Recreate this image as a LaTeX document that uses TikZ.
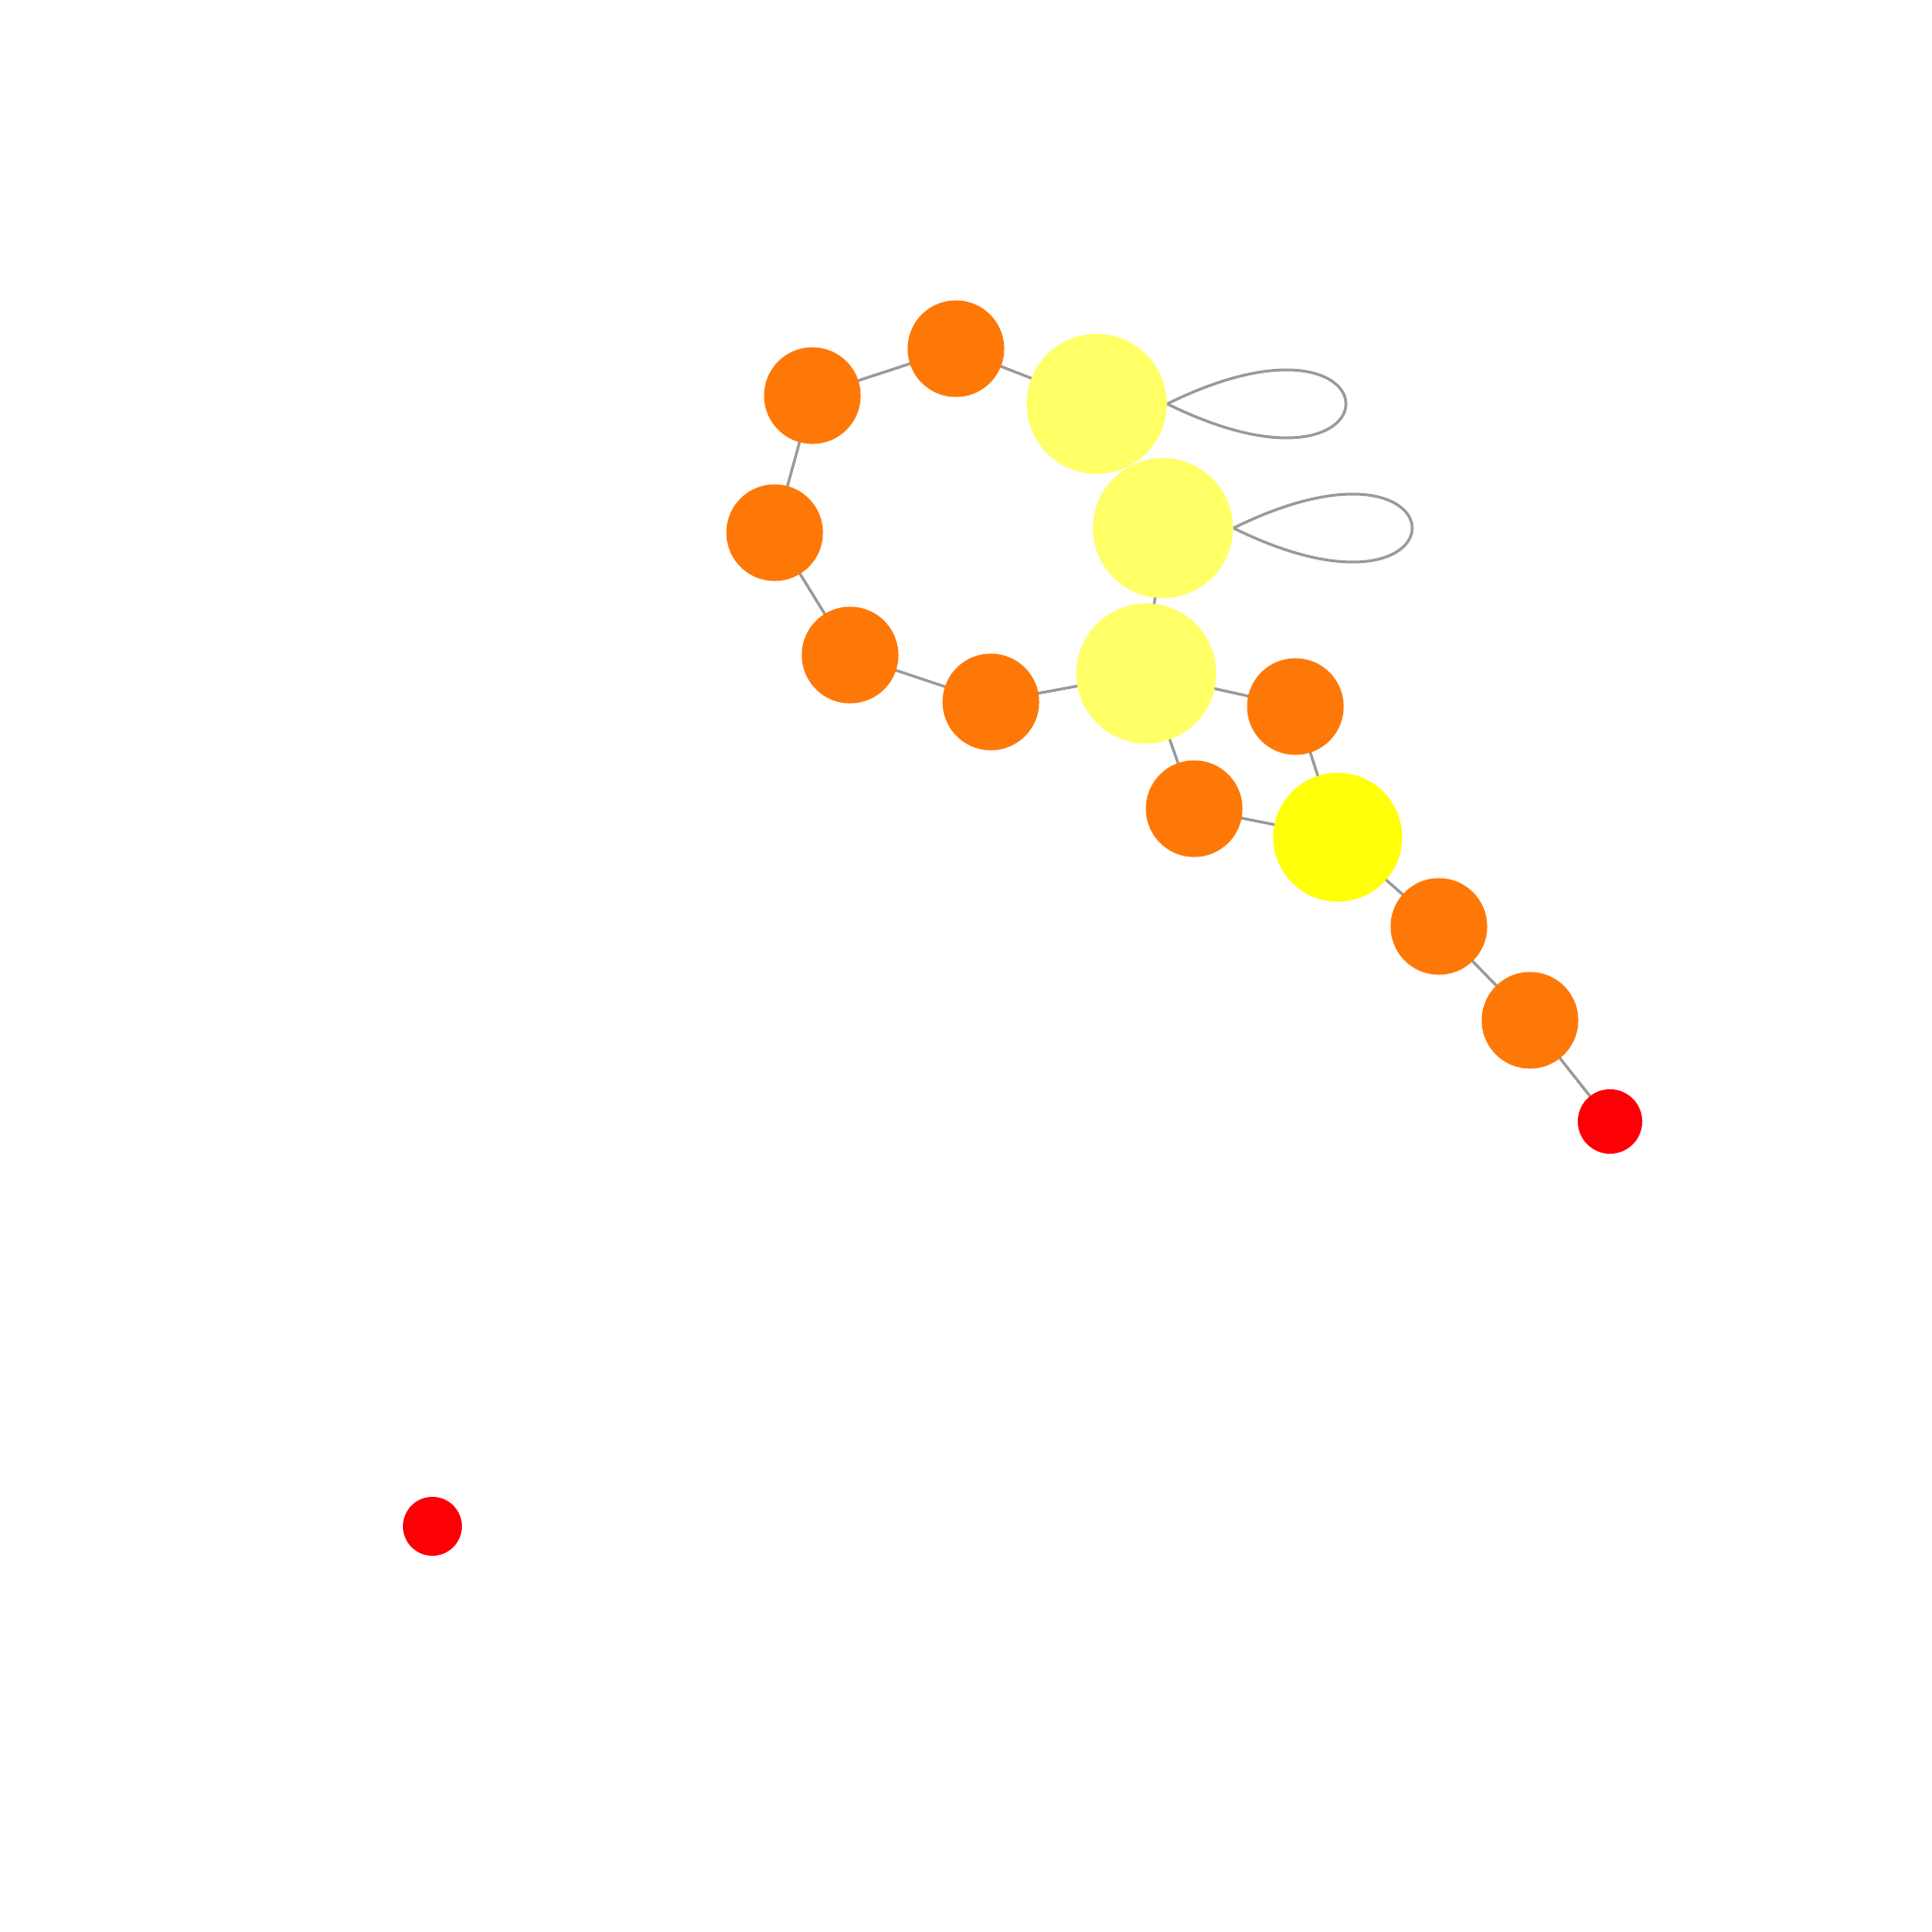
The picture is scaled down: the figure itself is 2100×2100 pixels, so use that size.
\documentclass[tikz,border=0pt]{standalone}
\usetikzlibrary{backgrounds}
\definecolor{vorange}{RGB}{254,120,8}
\definecolor{vpale}{RGB}{255,255,102}
\definecolor{vyellow}{RGB}{255,255,10}
\definecolor{vred}{RGB}{252,0,6}
\definecolor{edgegray}{RGB}{153,153,153}
\begin{document}
\begin{tikzpicture}[x=0.01cm,y=-0.01cm,
  vtx/.style={circle,inner sep=0pt,draw=none},
  orangev/.style={vtx,fill=vorange,minimum size=1.05cm},
  palev/.style={vtx,fill=vpale,minimum size=1.52cm},
  yellowv/.style={vtx,fill=vyellow,minimum size=1.40cm},
  redbig/.style={vtx,fill=vred,minimum size=0.70cm},
  redsmall/.style={vtx,fill=vred,minimum size=0.64cm},
  edge/.style={draw=edgegray,line width=0.85pt}]
\useasboundingbox (0,0) rectangle (2100,2100);
% nodes
\node[orangev] (A) at (1039,379) {};
\node[orangev] (B) at (883,430) {};
\node[orangev] (C) at (842,579) {};
\node[orangev] (D) at (924,712) {};
\node[orangev] (E) at (1077,763) {};
\node[palev] (F) at (1192,439) {};
\node[palev] (G) at (1264,574) {};
\node[palev] (H) at (1246,732) {};
\node[orangev] (I) at (1408,768) {};
\node[orangev] (J) at (1298,879) {};
\node[yellowv] (K) at (1454,910) {};
\node[orangev] (L) at (1564,1007) {};
\node[orangev] (M) at (1663,1109) {};
\node[redbig] (N) at (1750,1219) {};
\node[redsmall] (O) at (470,1659) {};
% edges behind nodes
\begin{scope}[on background layer]
\draw[edge] (A.center) -- (B.center);
\draw[edge] (B.center) -- (C.center);
\draw[edge] (C.center) -- (D.center);
\draw[edge] (D.center) -- (E.center);
\draw[edge] (E.center) -- (H.center);
\draw[edge] (A.center) -- (F.center);
\draw[edge] (G.center) -- (H.center);
\draw[edge] (H.center) -- (I.center);
\draw[edge] (H.center) -- (J.center);
\draw[edge] (I.center) -- (K.center);
\draw[edge] (J.center) -- (K.center);
\draw[edge] (K.center) -- (L.center);
\draw[edge] (L.center) -- (M.center);
\draw[edge] (M.center) -- (N.center);
\draw[edge] (F.east) .. controls +(259,-128) and +(259,128) .. (F.east);
\draw[edge] (G.east) .. controls +(259,-128) and +(259,128) .. (G.east);
\end{scope}
\end{tikzpicture}
\end{document}
